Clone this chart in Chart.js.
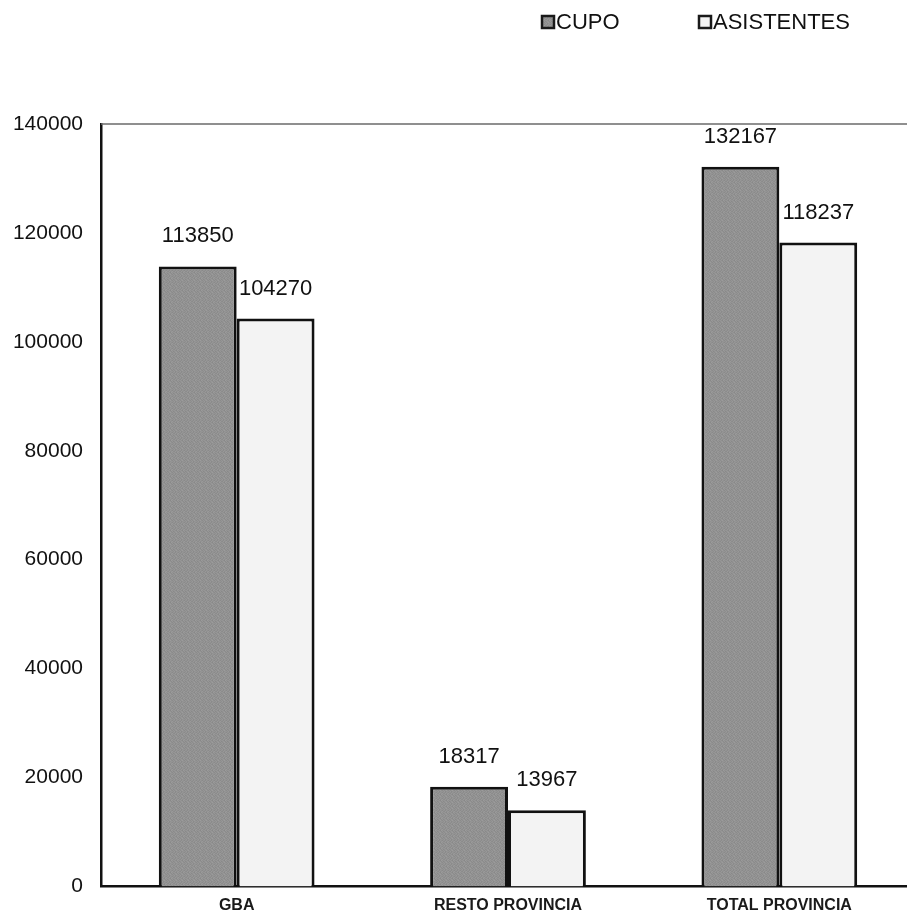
<!DOCTYPE html>
<html>
<head>
<meta charset="utf-8">
<script src="https://cdn.jsdelivr.net/npm/chart.js@4/dist/chart.umd.min.js"></script>
<style>
  html, body { margin: 0; padding: 0; background: #ffffff; overflow: hidden; }
  #wrap { width: 920px; height: 917px; position: relative; }
</style>
</head>
<body>
<div id="wrap"><canvas id="c" width="920" height="917"></canvas></div>
<script>
// Categories and series
const categories = ['GBA', 'RESTO PROVINCIA', 'TOTAL PROVINCIA'];
const seriesNames = ['CUPO', 'ASISTENTES'];
const cupo = [113850, 18317, 132167];
const asistentes = [104270, 13967, 118237];
const yTicks = [0, 20000, 40000, 60000, 80000, 100000, 120000, 140000];

const FONT = '"Liberation Sans", Arial, sans-serif';

// Mottled grey fill for the CUPO bars, built from a fixed tile
function mottledPattern() {
  const tile = [
    [0x92, 0x8c, 0x97, 0x90, 0x8a, 0x95],
    [0x8b, 0x99, 0x8e, 0x94, 0x9a, 0x8d],
    [0x96, 0x8f, 0x88, 0x9b, 0x91, 0x93],
    [0x90, 0x98, 0x93, 0x8c, 0x97, 0x89],
    [0x8d, 0x94, 0x9c, 0x90, 0x8b, 0x96],
    [0x99, 0x8a, 0x91, 0x95, 0x93, 0x8e]
  ];
  const t = document.createElement('canvas');
  t.width = 6; t.height = 6;
  const g = t.getContext('2d');
  for (let y = 0; y < 6; y++) {
    for (let x = 0; x < 6; x++) {
      const v = tile[y][x];
      g.fillStyle = `rgb(${v},${v},${v})`;
      g.fillRect(x, y, 1, 1);
    }
  }
  return document.getElementById('c').getContext('2d').createPattern(t, 'repeat');
}

const cupoFill = mottledPattern();
const asisFill = '#f3f3f3';

// Value labels above each bar
const valueLabels = {
  id: 'valueLabels',
  afterDatasetsDraw(chart) {
    const ctx = chart.ctx;
    ctx.save();
    ctx.font = '22px ' + FONT;
    ctx.fillStyle = '#111111';
    ctx.textAlign = 'center';
    ctx.textBaseline = 'middle';
    chart.data.datasets.forEach((ds, di) => {
      const meta = chart.getDatasetMeta(di);
      meta.data.forEach((el, i) => {
        ctx.fillText(String(ds.data[i]), el.x, el.y - 30);
      });
    });
    ctx.restore();
  }
};

// Frame line along the top of the plot and the legend above it
const frameAndLegend = {
  id: 'frameAndLegend',
  afterDraw(chart) {
    const ctx = chart.ctx;
    const a = chart.chartArea;
    ctx.save();
    ctx.strokeStyle = '#6a6a6a';
    ctx.lineWidth = 1.5;
    ctx.beginPath();
    ctx.moveTo(a.left, a.top);
    ctx.lineTo(a.right, a.top);
    ctx.stroke();

    const slots = [542, 699];
    ctx.font = '22px ' + FONT;
    ctx.textBaseline = 'middle';
    ctx.textAlign = 'left';
    chart.data.datasets.forEach((ds, i) => {
      const x = slots[i];
      ctx.fillStyle = ds.backgroundColor;
      ctx.fillRect(x, 16, 12, 12);
      ctx.strokeStyle = '#1a1a1a';
      ctx.lineWidth = 2.5;
      ctx.strokeRect(x, 16, 12, 12);
      ctx.fillStyle = '#111111';
      ctx.fillText(ds.label, x + 14, 23);
    });
    ctx.restore();
  }
};

new Chart(document.getElementById('c'), {
  type: 'bar',
  data: {
    labels: categories,
    datasets: [
      {
        label: seriesNames[0],
        data: cupo,
        backgroundColor: cupoFill,
        borderColor: '#111111',
        borderWidth: 3,
        borderSkipped: 'bottom'
      },
      {
        label: seriesNames[1],
        data: asistentes,
        backgroundColor: asisFill,
        borderColor: '#111111',
        borderWidth: 3,
        borderSkipped: 'bottom'
      }
    ]
  },
  options: {
    responsive: false,
    animation: false,
    devicePixelRatio: 1,
    categoryPercentage: 0.574,
    barPercentage: 1.0,
    layout: { padding: { top: 124, right: 5, left: 0, bottom: 0 } },
    plugins: {
      legend: { display: false },
      tooltip: { enabled: false },
      title: { display: false }
    },
    scales: {
      x: {
        grid: { display: false, drawTicks: false },
        border: { display: true, color: '#111111', width: 2.5 },
        ticks: {
          color: '#1a1a1a',
          font: { family: FONT, size: 16, weight: 'bold' },
          padding: 10,
          maxRotation: 0
        },
        afterFit(scale) { scale.height = 30; }
      },
      y: {
        min: 0,
        max: yTicks[yTicks.length - 1],
        afterBuildTicks(scale) { scale.ticks = yTicks.map(v => ({ value: v })); },
        grid: { display: false, drawTicks: false },
        border: { display: true, color: '#111111', width: 2.5 },
        ticks: {
          color: '#111111',
          font: { family: FONT, size: 21 },
          padding: 18,
          callback: (v) => String(v)
        },
        afterFit(scale) { scale.width = 101; }
      }
    }
  },
  plugins: [valueLabels, frameAndLegend]
});
</script>
</body>
</html>
